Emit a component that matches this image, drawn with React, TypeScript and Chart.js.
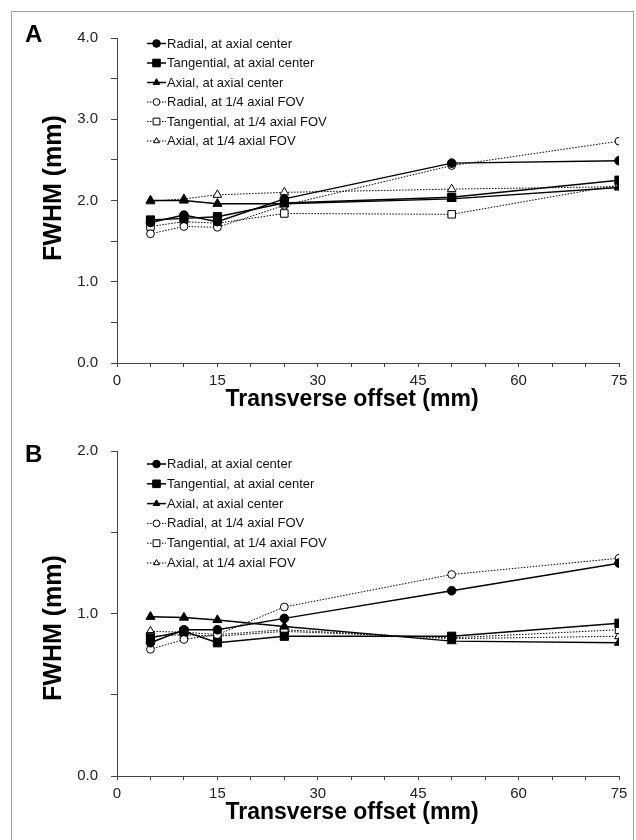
import React, { useEffect, useRef } from "react";
import { Chart, registerables } from "chart.js";

Chart.register(...registerables);

const FONT = "'Liberation Sans', Arial, Helvetica, sans-serif";

// ---------- data ----------
const offsets = [5, 10, 15, 25, 50, 75];

const seriesLabels = [
  "Radial, at axial center",
  "Tangential, at axial center",
  "Axial, at axial center",
  "Radial, at 1/4 axial FOV",
  "Tangential, at 1/4 axial FOV",
  "Axial, at 1/4 axial FOV",
];

// Panel A (FWHM, mm)
const radialCenterA = [1.73, 1.82, 1.74, 2.02, 2.46, 2.49];
const tangentialCenterA = [1.76, 1.78, 1.8, 1.97, 2.04, 2.25];
const axialCenterA = [2.0, 2.0, 1.96, 1.96, 2.02, 2.16];
const radialQuarterA = [1.59, 1.68, 1.67, 1.94, 2.43, 2.73];
const tangentialQuarterA = [1.68, 1.74, 1.72, 1.84, 1.83, 2.19];
const axialQuarterA = [1.99, 2.02, 2.07, 2.1, 2.14, 2.17];

// Panel B (FWHM, mm)
const radialCenterB = [0.82, 0.9, 0.9, 0.97, 1.14, 1.31];
const tangentialCenterB = [0.85, 0.89, 0.82, 0.86, 0.86, 0.94];
const axialCenterB = [0.98, 0.975, 0.96, 0.92, 0.83, 0.82];
const radialQuarterB = [0.78, 0.84, 0.87, 1.04, 1.24, 1.34];
const tangentialQuarterB = [0.86, 0.87, 0.86, 0.89, 0.85, 0.9];
const axialQuarterB = [0.89, 0.885, 0.87, 0.9, 0.845, 0.86];

const xTickLabels = [0, 15, 30, 45, 60, 75];
const yTickLabelsA = [0, 1, 2, 3, 4];
const yTickLabelsB = [0, 1, 2];

const xTitle = "Transverse offset (mm)";
const yTitle = "FWHM (mm)";

// ---------- styles ----------
type MarkerStyle = { shape: "circle" | "rect" | "triangle"; filled: boolean; dashed: boolean; r: number };
const markerStyles: MarkerStyle[] = [
  { shape: "circle", filled: true, dashed: false, r: 4.3 },
  { shape: "rect", filled: true, dashed: false, r: 5.8 },
  { shape: "triangle", filled: true, dashed: false, r: 5.2 },
  { shape: "circle", filled: false, dashed: true, r: 3.9 },
  { shape: "rect", filled: false, dashed: true, r: 5.3 },
  { shape: "triangle", filled: false, dashed: true, r: 5 },
];

type Panel = {
  letter: string;
  series: number[][];
  yMax: number;
  yLabels: number[];
  top: number;
  xAxisHeight: number;
  letterBaseline: number;
  yTitleY: number;
  xTitleY: number;
  legendY: number;
  legendStep: number;
};

const panels: Panel[] = [
  {
    letter: "A",
    series: [radialCenterA, tangentialCenterA, axialCenterA, radialQuarterA, tangentialQuarterA, axialQuarterA],
    yMax: 4,
    yLabels: yTickLabelsA,
    top: 38,
    xAxisHeight: 57,
    letterBaseline: 42,
    yTitleY: 188,
    xTitleY: 400,
    legendY: 43.5,
    legendStep: 19.5,
  },
  {
    letter: "B",
    series: [radialCenterB, tangentialCenterB, axialCenterB, radialQuarterB, tangentialQuarterB, axialQuarterB],
    yMax: 2,
    yLabels: yTickLabelsB,
    top: 31,
    xAxisHeight: 64,
    letterBaseline: 42,
    yTitleY: 208,
    xTitleY: 393,
    legendY: 44,
    legendStep: 19.8,
  },
];

function drawMarker(ctx: CanvasRenderingContext2D, m: MarkerStyle, x: number, y: number, r: number) {
  ctx.beginPath();
  if (m.shape === "circle") {
    ctx.arc(x, y, r, 0, Math.PI * 2);
  } else if (m.shape === "rect") {
    ctx.rect(x - r, y - r, 2 * r, 2 * r);
  } else {
    const h = r * 1.5;
    const w = r * 0.866;
    ctx.moveTo(x, y - r);
    ctx.lineTo(x + w, y - r + h);
    ctx.lineTo(x - w, y - r + h);
    ctx.closePath();
  }
  ctx.fillStyle = m.filled ? "#000" : "#fff";
  ctx.fill();
  ctx.lineWidth = 1;
  ctx.strokeStyle = "#000";
  ctx.stroke();
}

function decorPlugin(p: Panel) {
  return {
    id: "decor" + p.letter,
    afterDraw(chart: any) {
      const ctx: CanvasRenderingContext2D = chart.ctx;
      ctx.save();
      // panel letter
      ctx.fillStyle = "#000";
      ctx.font = `bold 24px ${FONT}`;
      ctx.textAlign = "left";
      ctx.textBaseline = "alphabetic";
      ctx.fillText(p.letter, 25, p.letterBaseline);

      // x title
      ctx.font = `bold 23px ${FONT}`;
      ctx.textAlign = "center";
      ctx.textBaseline = "middle";
      ctx.fillText(xTitle, 352, p.xTitleY);

      // y title
      ctx.save();
      ctx.translate(54, p.yTitleY);
      ctx.rotate(-Math.PI / 2);
      ctx.font = `bold 25px ${FONT}`;
      ctx.textAlign = "center";
      ctx.textBaseline = "middle";
      ctx.fillText(yTitle, 0, 0);
      ctx.restore();

      // legend
      ctx.font = `13px ${FONT}`;
      ctx.textAlign = "left";
      ctx.textBaseline = "middle";
      seriesLabels.forEach((label, i) => {
        const m = markerStyles[i];
        const y = p.legendY + i * p.legendStep;
        ctx.save();
        ctx.beginPath();
        ctx.strokeStyle = "#000";
        ctx.lineWidth = m.dashed ? 1 : 1.5;
        ctx.setLineDash(m.dashed ? [1.5, 1.5] : []);
        ctx.moveTo(147, y);
        ctx.lineTo(166, y);
        ctx.stroke();
        ctx.setLineDash([]);
        drawMarker(ctx, m, 156.5, y, m.filled ? 3.8 : 3.4);
        ctx.restore();
        ctx.fillStyle = "#111";
        ctx.fillText(label, 167, y + 0.5);
      });
      ctx.restore();
    },
  };
}

function ChartPanel({ panel }: { panel: Panel }) {
  const ref = useRef<HTMLCanvasElement | null>(null);
  useEffect(() => {
    if (!ref.current) return;
    const axisColor = "#444";
    const chart = new Chart(ref.current, {
      type: "line",
      data: {
        datasets: panel.series.map((vals, i) => {
          const m = markerStyles[i];
          return {
            label: seriesLabels[i],
            data: offsets.map((x, j) => ({ x, y: vals[j] })),
            borderColor: "#000",
            borderWidth: m.dashed ? 1 : 1.5,
            borderDash: m.dashed ? [1.5, 1.5] : [],
            pointStyle: m.shape,
            pointRadius: m.r,
            pointBackgroundColor: m.filled ? "#000" : "#fff",
            pointBorderColor: "#000",
            pointBorderWidth: 1,
            fill: false,
            tension: 0,
          } as any;
        }),
      },
      options: {
        animation: false,
        responsive: false,
        maintainAspectRatio: false,
        events: [],
        layout: { padding: { left: 0, right: 17, top: panel.top, bottom: 0 } },
        plugins: { legend: { display: false }, tooltip: { enabled: false } },
        scales: {
          x: {
            type: "linear",
            min: 0,
            max: 75,
            afterFit: (s: any) => {
              s.height = panel.xAxisHeight;
            },
            ticks: {
              stepSize: 5,
              autoSkip: false,
              maxRotation: 0,
              padding: 5,
              color: "#222",
              font: { size: 15, family: FONT },
              callback: (v: any) => (xTickLabels.includes(Number(v)) ? String(v) : ""),
            },
            grid: { drawOnChartArea: false, tickLength: 4, color: axisColor },
            border: { display: true, color: axisColor, width: 1 },
          },
          y: {
            type: "linear",
            min: 0,
            max: panel.yMax,
            afterFit: (s: any) => {
              s.width = 117;
            },
            ticks: {
              stepSize: 0.5,
              autoSkip: false,
              padding: 13,
              color: "#222",
              font: { size: 15, family: FONT },
              callback: (v: any) => (panel.yLabels.includes(Number(v)) ? Number(v).toFixed(1) : ""),
            },
            grid: { drawOnChartArea: false, tickLength: 6, color: axisColor },
            border: { display: true, color: axisColor, width: 1 },
          },
        },
      } as any,
      plugins: [decorPlugin(panel)],
    });
    return () => chart.destroy();
  }, [panel]);
  return <canvas ref={ref} width={636} height={420} style={{ display: "block", width: 636, height: 420 }} />;
}

export default function App() {
  return (
    <div
      style={{
        position: "absolute",
        left: 0,
        top: 0,
        width: 636,
        height: 840,
        overflow: "hidden",
        background: "#fff",
      }}
    >
      <div
        style={{
          position: "absolute",
          left: 11,
          top: 11,
          width: 621,
          height: 829,
          borderLeft: "1px solid #a0a0a0",
          borderTop: "1px solid #a0a0a0",
          borderRight: "1px solid #a0a0a0",
        }}
      />
      <div style={{ position: "absolute", left: 0, top: 0 }}>
        <ChartPanel panel={panels[0]} />
      </div>
      <div style={{ position: "absolute", left: 0, top: 420 }}>
        <ChartPanel panel={panels[1]} />
      </div>
    </div>
  );
}
